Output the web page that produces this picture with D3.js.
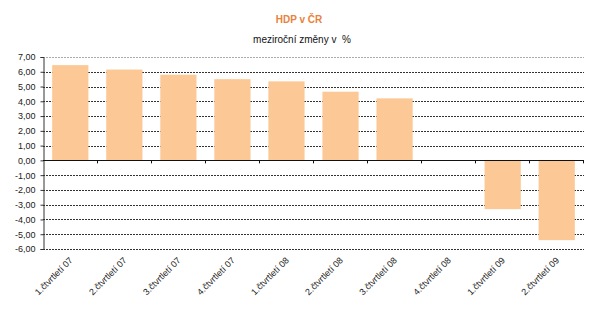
<!DOCTYPE html>
<html>
<head>
<meta charset="utf-8">
<script src="https://cdn.jsdelivr.net/npm/d3@7"></script>
<style>
  body { margin: 0; background: #fff; }
  svg { display: block; font-family: "Liberation Sans", Arial, sans-serif; }
</style>
</head>
<body>
<script>
// data
const categories = [
  "1.čtvrtletí 07", "2.čtvrtletí 07", "3.čtvrtletí 07", "4.čtvrtletí 07",
  "1.čtvrtletí 08", "2.čtvrtletí 08", "3.čtvrtletí 08", "4.čtvrtletí 08",
  "1.čtvrtletí 09", "2.čtvrtletí 09"
];
const values = [6.45, 6.15, 5.8, 5.5, 5.35, 4.65, 4.2, null, -3.3, -5.4];
const yTicks = [7, 6, 5, 4, 3, 2, 1, 0, -1, -2, -3, -4, -5, -6];
const title = "HDP v ČR";
const subtitle = "meziroční změny v  %";
//
const w = 595;
const h = 323;
const p = { t: 57, r: 11, b: 74, l: 43 };

const svg = d3.select("body")
  .append("svg")
  .attr("width", w)
  .attr("height", h);

svg.append("text")
  .attr("x", 299)
  .attr("y", 23)
  .attr("text-anchor", "middle")
  .attr("font-size", "10px")
  .attr("font-weight", "bold")
  .attr("fill", "#e8823c")
  .text(title);

svg.append("text")
  .attr("x", 302)
  .attr("y", 43)
  .attr("text-anchor", "middle")
  .attr("font-size", "10px")
  .attr("fill", "#111")
  .style("white-space", "pre")
  .text(subtitle);

const x = d3.scaleBand()
  .domain(categories)
  .range([p.l, w - p.r])
  .paddingInner(0.33)
  .paddingOuter(0.17);

const y = d3.scaleLinear()
  .domain([-6, 7])
  .range([h - p.b, p.t]);

// gridlines
svg.append("g")
  .selectAll("line")
  .data(yTicks.filter((d) => d !== 0))
  .enter()
  .append("line")
  .attr("x1", p.l)
  .attr("x2", w - p.r)
  .attr("y1", (d) => Math.round(y(d)) + 0.5)
  .attr("y2", (d) => Math.round(y(d)) + 0.5)
  .attr("stroke", (d) => (d === 7 ? "#aaa" : "#333"))
  .attr("stroke-width", 1)
  .attr("stroke-dasharray", "2,1");

// bars
svg.append("g")
  .selectAll("rect")
  .data(values.map((v, i) => ({ c: categories[i], v: v })).filter((d) => d.v !== null))
  .enter()
  .append("rect")
  .attr("x", (d) => x(d.c))
  .attr("width", x.bandwidth())
  .attr("y", (d) => y(Math.max(0, d.v)))
  .attr("height", (d) => Math.abs(y(d.v) - y(0)))
  .attr("fill", "#fcc996");

// y axis
const yAxis = svg.append("g")
  .attr("transform", `translate(${p.l + 0.5},0)`)
  .call(
    d3.axisLeft(y)
      .tickValues(yTicks)
      .tickSize(3)
      .tickPadding(5)
      .tickFormat((d) => d3.format(".2f")(d).replace(".", ",").replace("−", "-"))
  );
yAxis.select(".domain").attr("stroke", "#333");
yAxis.selectAll(".tick line").attr("stroke", "#333");
yAxis.selectAll("text")
  .attr("font-size", "9px")
  .attr("font-family", "Liberation Sans, Arial, sans-serif")
  .attr("fill", "#222");

// zero axis with ticks between categories
const step = x.step();
const bounds = d3.range(categories.length + 1).map((i) => p.l + i * step);
const xAxis = svg.append("g");
xAxis.append("line")
  .attr("x1", p.l)
  .attr("x2", w - p.r)
  .attr("y1", Math.round(y(0)) + 0.5)
  .attr("y2", Math.round(y(0)) + 0.5)
  .attr("stroke", "#111")
  .attr("stroke-width", 1.2);
xAxis.selectAll("line.tk")
  .data(bounds.slice(1))
  .enter()
  .append("line")
  .attr("class", "tk")
  .attr("x1", (d) => Math.round(d) + 0.5)
  .attr("x2", (d) => Math.round(d) + 0.5)
  .attr("y1", y(0))
  .attr("y2", y(0) + 3)
  .attr("stroke", "#111");

// category labels
svg.append("g")
  .selectAll("text")
  .data(categories)
  .enter()
  .append("text")
  .attr("transform", (d) => `translate(${x(d) + x.bandwidth() / 2 + 3},${h - p.b + 12}) rotate(-45)`)
  .attr("text-anchor", "end")
  .attr("font-size", "9px")
  .attr("fill", "#222")
  .text((d) => d);
</script>
</body>
</html>
